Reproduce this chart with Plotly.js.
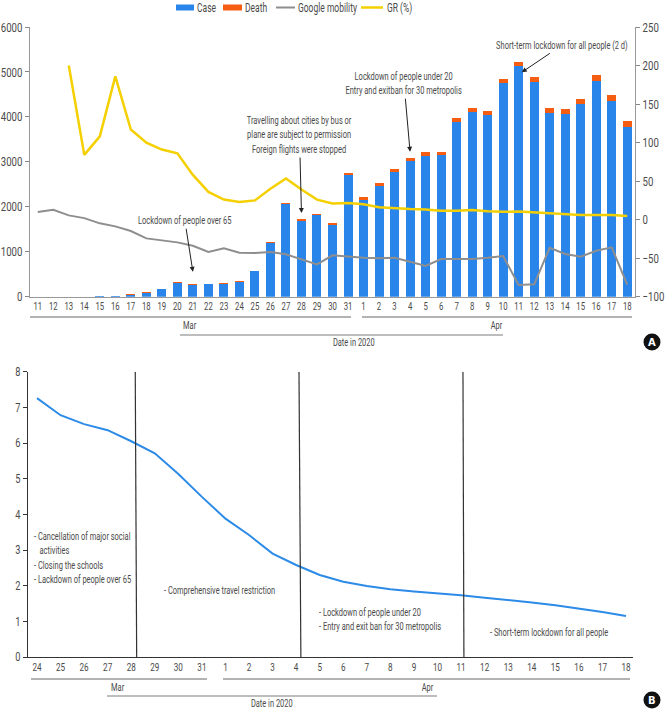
<!DOCTYPE html>
<html>
<head>
<meta charset="utf-8">
<script src="https://cdn.plot.ly/plotly-3.0.1.min.js"></script>
<style>html,body{margin:0;padding:0;background:#fff;}#chart{width:667px;height:712px;}</style>
</head>
<body>
<div id="chart"></div>
<script>
// ---------- Panel A data (Mar 11 – Apr 18, 2020) ----------
const dayLabelsA = ['11','12','13','14','15','16','17','18','19','20','21','22','23','24','25','26','27','28','29','30','31',
                    '1','2','3','4','5','6','7','8','9','10','11','12','13','14','15','16','17','18'];
const cases = [0,0,0,0,5,17,42,90,165,305,270,278,290,335,565,1195,2065,1685,1810,1600,2705,
               2150,2455,2785,3015,3135,3150,3880,4110,4045,4745,5135,4785,4080,4060,4280,4795,4355,3775];
const deaths = [0,0,0,0,10,3,8,10,10,15,10,12,15,15,15,20,30,35,30,50,50,
                75,75,65,75,80,80,90,80,95,100,95,95,110,110,110,130,125,125];
const mobility = [10,12.8,5.5,2,-4.8,-8.7,-14.8,-24.3,-26.9,-29.5,-33.9,-42,-37.3,-43,-43.4,-42,-45,-51.5,-58,-46.3,-48.1,
                  -49.4,-50.2,-49.4,-54.6,-60.2,-51.1,-51.1,-51,-49.4,-47.2,-84.8,-84,-36.5,-44.6,-48,-40.4,-36,-84.4];
const growthRate = [null,null,200,84,108,186,117,100,91,86,58,36,26,23,25,40,53.5,39,26,21,21.5,
                    20,16,14.6,13.7,13.3,11.5,11.5,12.4,11,10.2,10.6,9.3,8.1,6.3,5.9,5.9,5.9,4.6];
const seriesNames = ['Case','Death','Google mobility','GR (%)'];

// ---------- Panel B data (Mar 24 – Apr 18, 2020) ----------
const dayLabelsB = ['24','25','26','27','28','29','30','31','1','2','3','4','5','6','7','8','9','10','11','12','13','14','15','16','17','18'];
const rtValues = [7.26,6.78,6.53,6.36,6.05,5.71,5.13,4.49,3.88,3.42,2.9,2.58,2.3,2.11,1.99,1.90,1.84,1.79,1.73,1.66,1.60,1.53,1.45,1.36,1.26,1.15];

const idxA = dayLabelsA.map((_, i) => i);
const idxB = dayLabelsB.map((_, i) => i);

const COLORS = {case:'#2985ea', death:'#f55d12', mob:'#8e8e8e', gr:'#f5d000', rt:'#2d8be8'};
const FONT = 'Roboto, "Liberation Sans", sans-serif';
const TXT = '#4a4a4a';
const W = 667, H = 712;
const px = x => x / W;
const py = y => 1 - y / H;

const traces = [
  {type:'bar', name:seriesNames[0], x:idxA, y:cases, marker:{color:COLORS.case}, xaxis:'x', yaxis:'y', showlegend:false},
  {type:'bar', name:seriesNames[1], x:idxA, y:deaths, marker:{color:COLORS.death}, xaxis:'x', yaxis:'y', showlegend:false},
  {type:'scatter', mode:'lines', name:seriesNames[2], x:idxA, y:mobility, line:{color:COLORS.mob, width:2}, xaxis:'x', yaxis:'y2', showlegend:false},
  {type:'scatter', mode:'lines', name:seriesNames[3], x:idxA, y:growthRate, line:{color:COLORS.gr, width:2.5}, xaxis:'x', yaxis:'y2', showlegend:false},
  {type:'scatter', mode:'lines', name:'Rt', x:idxB, y:rtValues, line:{color:COLORS.rt, width:2}, xaxis:'x2', yaxis:'y3', showlegend:false}
];

const annA = (text, xi, yv, ax, ay) => ({
  text, x: xi, y: yv, xref:'x', yref:'y', ax, ay, showarrow:true,
  arrowhead:2, arrowsize:1, arrowwidth:1, arrowcolor:'#222',
  font:{family:FONT, size:11, color:TXT}, align:'center'
});
const txt = (text, x, y, opts={}) => Object.assign({
  text, x: px(x), y: py(y), xref:'paper', yref:'paper', showarrow:false,
  xanchor:'center', yanchor:'middle',
  font:{family:FONT, size:11, color:TXT}
}, opts);
const leftTxt = (text, x, y, size=11) => txt(text, x, y, {xanchor:'left', align:'left', font:{family:FONT, size, color:TXT}});

const annotations = [
  // legend labels
  leftTxt(seriesNames[0], 195, 7.5, 12.5), leftTxt(seriesNames[1], 243, 7.5, 12.5),
  leftTxt(seriesNames[2], 296, 7.5, 12.5), leftTxt(seriesNames[3], 385, 7.5, 12.5),
  // panel A callouts
  annA('Lockdown of people over 65', 10, 556, -8, -51),
  annA('Travelling about cities by bus or<br>plane are subject to permission<br>Foreign flights were stopped', 17, 1862, -2, -78),
  annA('Lockdown of people under 20<br>Entry and exitban for 30 metropolis', 24, 3226, -6, -68),
  annA('Short-term lockdown for all people (2 d)', 31.2, 4992, 40, -27),
  txt('Mar', 190, 326), txt('Apr', 496, 326), txt('Date in 2020', 354, 343),
  txt('<b>A</b>', 652, 342.5, {font:{family:'DejaVu Sans', size:10, color:'#fff'}}),
  // panel B notes
  leftTxt('- Cancellation of major social<br>   activities<br>- Closing the schools<br>- Lackdown of people over 65', 32, 558),
  leftTxt('- Comprehensive travel restriction', 162, 590),
  leftTxt('- Lockdown of people under 20<br>- Entry and exit ban for 30 metropolis', 317, 619),
  leftTxt('- Short-term lockdown for all people', 488, 632),
  txt('Mar', 118, 687), txt('Apr', 427, 687), txt('Date in 2020', 272, 703),
  txt('<b>B</b>', 652, 700.5, {font:{family:'DejaVu Sans', size:10, color:'#fff'}})
];

const hline = (x0, x1, y, color, width) => ({type:'line', xref:'paper', yref:'paper', x0:px(x0), x1:px(x1), y0:py(y), y1:py(y), line:{color, width}});
const box = (x0, x1, y0, y1, color) => ({type:'rect', xref:'paper', yref:'paper', x0:px(x0), x1:px(x1), y0:py(y1), y1:py(y0), fillcolor:color, line:{width:0}});
const vlineB = (xt, xb) => ({type:'line', xref:'x2', yref:'y3', x0:xt, x1:xb, y0:8, y1:0, line:{color:'#333', width:1.2}});
const badge = (cx, cy) => ({type:'circle', xref:'paper', yref:'paper', x0:px(cx-8.5), x1:px(cx+8.5), y0:py(cy+8.5), y1:py(cy-8.5), fillcolor:'#111', line:{width:0}});

const shapes = [
  // legend symbols
  box(176, 194, 4.5, 10.5, COLORS.case), box(223, 242, 4.5, 10.5, COLORS.death),
  hline(276, 295, 7.5, COLORS.mob, 2), hline(361, 383, 7.5, COLORS.gr, 2.5),
  // date brackets
  hline(30, 351, 317, '#666', 1), hline(362, 632, 317, '#666', 1), hline(180, 503, 335, '#bdbdbd', 2),
  hline(31, 207, 679, '#666', 1), hline(223, 630, 679, '#666', 1), hline(107, 437, 696, '#bdbdbd', 2),
  vlineB(4.17, 4.23), vlineB(11.12, 11.2), vlineB(18.08, 18.12),
  badge(652, 342), badge(652, 700)
];

const layout = {
  width:W, height:H, margin:{l:0, r:0, t:0, b:0},
  paper_bgcolor:'#fff', plot_bgcolor:'#fff',
  font:{family:FONT, color:TXT},
  barmode:'stack', bargap:0.42,
  showlegend:false,
  xaxis:{domain:[px(30), px(635)], anchor:'y', range:[-0.5, 38.5], tickmode:'array', tickvals:idxA, ticktext:dayLabelsA,
         tickfont:{family:FONT, size:10.5, color:TXT}, showline:true, linecolor:'#999', linewidth:1, ticks:'', showgrid:false, zeroline:false, tickangle:0},
  yaxis:{domain:[py(296.7), py(27)], range:[0, 6000], dtick:1000, ticks:'outside', ticklen:4, tickcolor:'#888',
         showline:true, linecolor:'#999', showgrid:false, zeroline:false, tickfont:{family:FONT, size:13, color:TXT}},
  yaxis2:{overlaying:'y', side:'right', anchor:'x', range:[-100, 250], dtick:50, ticks:'outside', ticklen:4, tickcolor:'#888',
          showline:true, linecolor:'#999', showgrid:false, zeroline:false, tickfont:{family:FONT, size:13, color:TXT}},
  xaxis2:{domain:[px(28), px(633)], anchor:'y3', range:[-0.382, 25.297], tickmode:'array', tickvals:idxB, ticktext:dayLabelsB,
          tickfont:{family:FONT, size:11, color:TXT}, showline:true, linecolor:'#333', ticks:'', showgrid:false, zeroline:false, tickangle:0},
  yaxis3:{domain:[py(657), py(371.7)], anchor:'x2', range:[0, 8], dtick:1, ticks:'outside', ticklen:4, tickcolor:'#333',
          showline:true, linecolor:'#333', showgrid:false, zeroline:false, tickfont:{family:FONT, size:12.5, color:TXT}},
  annotations, shapes
};

// The reference uses a condensed typeface; squeeze text horizontally around its anchor.
function condense(gd) {
  gd.querySelectorAll('svg text').forEach(t => {
    const c = t.textContent.trim();
    if (c === 'A' || c === 'B') return;
    const s = t.classList.contains('annotation-text') ? 0.68 : 0.74;
    const x = parseFloat(t.getAttribute('x')) || 0;
    const prev = t.getAttribute('transform') || '';
    t.setAttribute('transform', `${prev} translate(${x},0) scale(${s},1) translate(${-x},0)`);
  });
}

Plotly.newPlot('chart', traces, layout, {displayModeBar:false, staticPlot:true})
  .then(gd => condense(gd));
</script>
</body>
</html>
